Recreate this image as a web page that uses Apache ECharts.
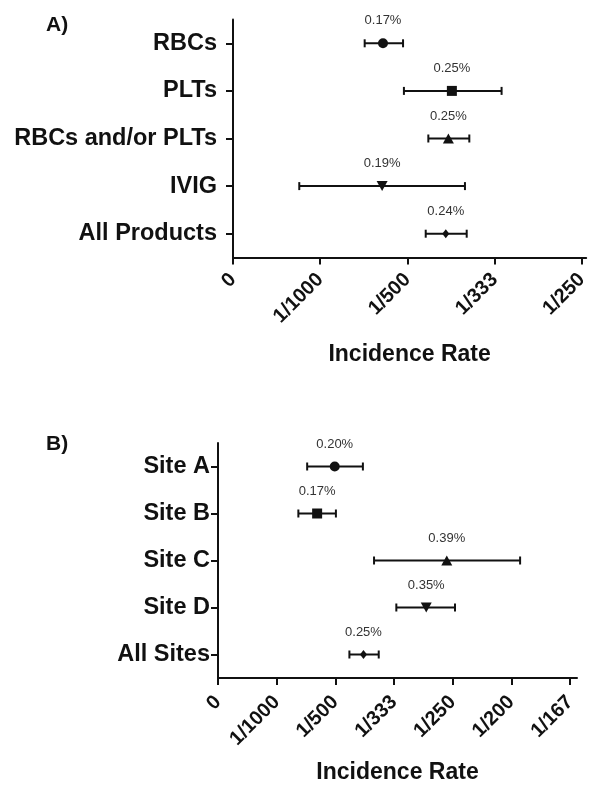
<!DOCTYPE html>
<html>
<head>
<meta charset="utf-8">
<script src="https://cdn.jsdelivr.net/npm/echarts@6/dist/echarts.min.js"></script>
<style>html,body{margin:0;padding:0;background:#fff}#c{width:591px;height:785px}</style>
</head>
<body>
<div id="c"></div>
<script>
// Panel A
const catsA = ['RBCs', 'PLTs', 'RBCs and/or PLTs', 'IVIG', 'All Products'];
const rateA = [0.172, 0.251, 0.247, 0.171, 0.244];
const lowA = [0.151, 0.196, 0.224, 0.076, 0.221];
const highA = [0.195, 0.308, 0.271, 0.266, 0.268];
const labelsA = ['0.17%', '0.25%', '0.25%', '0.19%', '0.24%'];
const tickValuesA = [0, 0.1, 0.2, 0.3, 0.4];
const tickLabelsA = ['0', '1/1000', '1/500', '1/333', '1/250'];

// Panel B
const catsB = ['Site A', 'Site B', 'Site C', 'Site D', 'All Sites'];
const rateB = [0.199, 0.169, 0.390, 0.355, 0.248];
const lowB = [0.152, 0.137, 0.266, 0.304, 0.224];
const highB = [0.247, 0.201, 0.515, 0.404, 0.274];
const labelsB = ['0.20%', '0.17%', '0.39%', '0.35%', '0.25%'];
const tickValuesB = [0, 0.1, 0.2, 0.3, 0.4, 0.5, 0.6];
const tickLabelsB = ['0', '1/1000', '1/500', '1/333', '1/250', '1/200', '1/167'];

const symbols = ['circle', 'rect', 'triangle', 'triangle', 'diamond'];
const symbolSizes = [10, 10, [11, 10], [11, 10], [7, 9]];
const symbolRotates = [0, 0, 0, 180, 0];

const FONT = 'Liberation Sans';

const chart = echarts.init(document.getElementById('c'), null, {renderer: 'canvas'});

function xAxisCfg(gridIndex, max, ticks, tickLabels, margin, nameGap) {
  return {
    type: 'value', gridIndex: gridIndex, min: 0, max: max,
    name: 'Incidence Rate', nameLocation: 'middle', nameGap: nameGap,
    nameTextStyle: {fontFamily: FONT, fontWeight: 'bold', fontSize: 23, color: '#111'},
    axisLine: {show: true, lineStyle: {color: '#111', width: 2}},
    axisTick: {show: true, length: 7, lineStyle: {color: '#111', width: 2}, customValues: ticks},
    axisLabel: {
      customValues: ticks, rotate: 45, margin: margin,
      fontFamily: FONT, fontWeight: 'bold', fontSize: 20, color: '#111',
      formatter: function (v) {
        const i = ticks.findIndex(t => Math.abs(t - v) < 1e-9);
        return i >= 0 ? tickLabels[i] : '';
      }
    },
    splitLine: {show: false}
  };
}

function yAxisCfg(gridIndex, cats, margin) {
  return {
    type: 'category', gridIndex: gridIndex, data: cats, inverse: true,
    boundaryGap: true,
    axisLine: {show: true, lineStyle: {color: '#111', width: 2}},
    axisTick: {show: true, alignWithLabel: true, length: 7, lineStyle: {color: '#111', width: 2}},
    axisLabel: {margin: margin, fontFamily: FONT, fontWeight: 'bold', fontSize: 23.5, color: '#111'},
    splitLine: {show: false}
  };
}

function errSeries(idx, low, high) {
  return {
    type: 'custom', xAxisIndex: idx, yAxisIndex: idx, z: 2,
    encode: {x: [0, 1], y: 2},
    data: low.map((l, i) => [l, high[i], i]),
    renderItem: function (params, api) {
      const a = api.coord([api.value(0), api.value(2)]);
      const b = api.coord([api.value(1), api.value(2)]);
      const cap = 4;
      const st = {stroke: '#111', lineWidth: 2};
      return {
        type: 'group', children: [
          {type: 'line', shape: {x1: a[0], y1: a[1], x2: b[0], y2: b[1]}, style: st},
          {type: 'line', shape: {x1: a[0], y1: a[1] - cap, x2: a[0], y2: a[1] + cap}, style: st},
          {type: 'line', shape: {x1: b[0], y1: b[1] - cap, x2: b[0], y2: b[1] + cap}, style: st}
        ]
      };
    }
  };
}

function pointSeries(idx, rate, labels) {
  return {
    type: 'scatter', xAxisIndex: idx, yAxisIndex: idx, z: 3,
    data: rate.map((r, i) => ({
      value: [r, i],
      symbol: symbols[i],
      symbolSize: symbolSizes[i],
      symbolRotate: symbolRotates[i],
      label: {formatter: labels[i]}
    })),
    itemStyle: {color: '#111', opacity: 1},
    label: {
      show: true, position: 'top', distance: 11,
      fontFamily: FONT, fontSize: 13, color: '#333'
    },
    emphasis: {disabled: true}
  };
}

chart.setOption({
  animation: false,
  backgroundColor: '#fff',
  title: [
    {text: 'A)', left: 41, top: 10, textStyle: {fontFamily: FONT, fontWeight: 'bold', fontSize: 21, color: '#111'}},
    {text: 'B)', left: 41, top: 429, textStyle: {fontFamily: FONT, fontWeight: 'bold', fontSize: 21, color: '#111'}}
  ],
  grid: [
    {left: 233, top: 19.5, width: 355, height: 238},
    {left: 218, top: 443, width: 359, height: 238}
  ],
  xAxis: [
    xAxisCfg(0, 0.405, tickValuesA, tickLabelsA, 19, 86),
    xAxisCfg(1, 0.612, tickValuesB, tickLabelsB, 21, 83)
  ],
  yAxis: [
    yAxisCfg(0, catsA, 16),
    yAxisCfg(1, catsB, 8)
  ],
  series: [
    errSeries(0, lowA, highA),
    pointSeries(0, rateA, labelsA),
    errSeries(1, lowB, highB),
    pointSeries(1, rateB, labelsB)
  ]
});
</script>
</body>
</html>
